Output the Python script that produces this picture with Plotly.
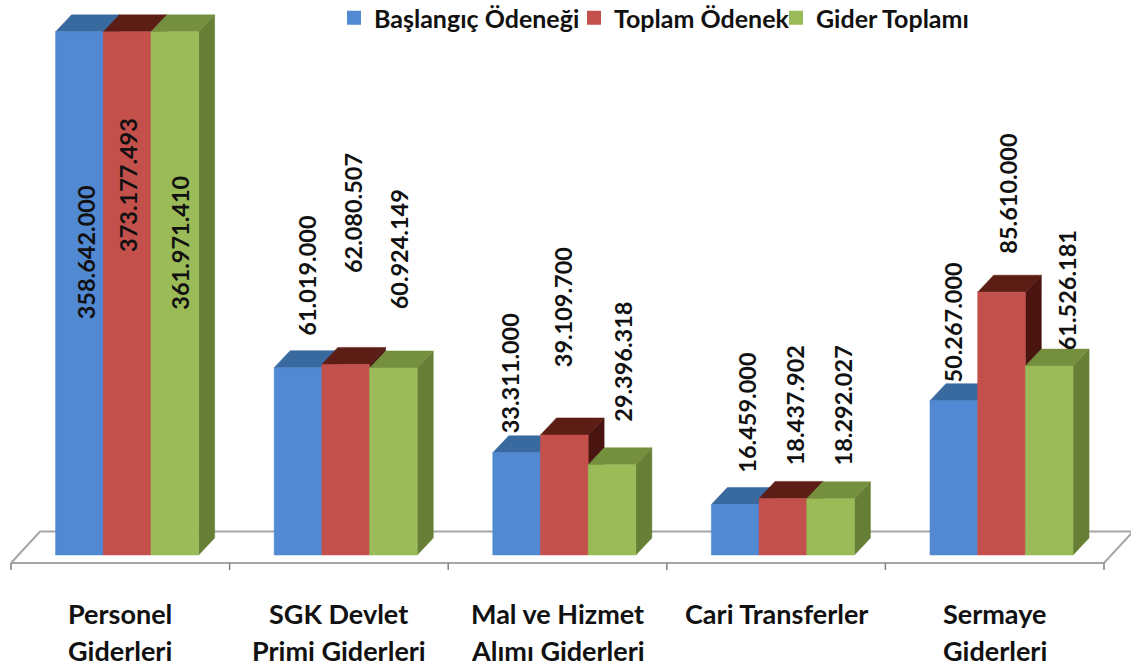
import plotly.graph_objects as go

categories_line1 = ["Personel", "SGK Devlet", "Mal ve Hizmet", "Cari Transferler", "Sermaye"]
categories_line2 = ["Giderleri", "Primi Giderleri", "Alımı Giderleri", "", "Giderleri"]
series_names = ["Başlangıç Ödeneği", "Toplam Ödenek", "Gider Toplamı"]
baslangic = [358642000, 61019000, 33311000, 16459000, 50267000]
toplam = [373177493, 62080507, 39109700, 18437902, 85610000]
gider = [361971410, 60924149, 29396318, 18292027, 61526181]
series = [baslangic, toplam, gider]

FRONT = ["#5289D3", "#C4504C", "#9BBB59"]
TOP = ["#38699F", "#5C1D14", "#748F3E"]
SIDE = ["#2F5A8A", "#4A1510", "#667E35"]

# scales (the page margin is removed by a small post script, so the figure fills the window)
FIG_W, FIG_H = 1131, 666
PX_PER_UNIT = 218.6            # px per category
PX_PER_VAL = 3.07e-6           # px per value unit
AXIS_CAP = 170.4e6             # value axis maximum: taller bars are cut here
BAR_W = 47.7 / PX_PER_UNIT
DX = 16 / PX_PER_UNIT
DY = 17 / PX_PER_VAL
GROUP_SHIFT = 6.8 / PX_PER_UNIT
FLOOR_FRONT = -8 / PX_PER_VAL
FLOOR_BACK = 23.5 / PX_PER_VAL
TICK_BOTTOM = -15 / PX_PER_VAL
FLOOR_DX = 29 / PX_PER_UNIT
ORIGIN_X, ORIGIN_Y = 120.3, 555

# label nudges (px) relative to the top centre of the front face
label_dx = [[6, 1, 5], [9, 8, 6], [-7, -1, 11], [12, 12, 12], [-1, 7, 18]]
label_dy = [[-220, -153, -211], [92, 151, 119], [80, 128, 103], [92, 93, 93], [79, 99, 76]]
legend_left = [334, 574, 776]

fig = go.Figure()


def poly(xs, ys, color):
    fig.add_trace(go.Scatter(x=xs + xs[:1], y=ys + ys[:1], mode="lines", fill="toself",
                             fillcolor=color, line=dict(width=0.5, color=color),
                             hoverinfo="skip", showlegend=False))


# floor
n = len(categories_line1)
x0, x1 = -0.5, n - 0.5
GRAY = "#A6A6A6"
fig.add_trace(go.Scatter(
    x=[x0, x0 + FLOOR_DX, x1 + FLOOR_DX, x1, x0],
    y=[FLOOR_FRONT, FLOOR_BACK, FLOOR_BACK, FLOOR_FRONT, FLOOR_FRONT],
    mode="lines", line=dict(color=GRAY, width=2), hoverinfo="skip", showlegend=False))
for t in range(n + 1):
    fig.add_trace(go.Scatter(x=[t - 0.5, t - 0.5], y=[FLOOR_FRONT, TICK_BOTTOM], mode="lines",
                             line=dict(color="#808080", width=1.5), hoverinfo="skip", showlegend=False))

# bars, painted left to right so nearer faces cover farther ones
for i in range(n):
    for k in range(3):
        v = min(series[k][i], AXIS_CAP)
        l = i + GROUP_SHIFT + (k - 1.5) * BAR_W
        r = l + BAR_W
        poly([r, r + DX, r + DX, r], [0, DY, v + DY, v], SIDE[k])
        poly([l, r, r + DX, l + DX], [v, v, v + DY, v + DY], TOP[k])
        poly([l, r, r, l], [0, 0, v, v], FRONT[k])

# legend: one small legend per entry so that each can sit at its own place
FONT = "Lato"
legend_font = dict(family=FONT, size=25, color="#111111", weight="bold")
legend_layout = {}
for k in range(3):
    ref = "legend" if k == 0 else f"legend{k + 1}"
    fig.add_trace(go.Scatter(x=[None], y=[None], mode="markers", name=series_names[k], legend=ref,
                             showlegend=True,
                             marker=dict(symbol="square", size=14, color=FRONT[k])))
    legend_layout[ref] = dict(x=legend_left[k] / FIG_W, y=1 + 5 / FIG_H,
                              xanchor="left", yanchor="top", bgcolor="rgba(0,0,0,0)",
                              font=legend_font, itemwidth=30)

annotations = []
for i in range(n):
    for k in range(3):
        v = series[k][i]
        txt = f"{v:,}".replace(",", ".")
        annotations.append(dict(
            x=i + GROUP_SHIFT + (k - 1) * BAR_W, y=min(v, AXIS_CAP), xref="x", yref="y",
            text=txt, textangle=-90, showarrow=False,
            xanchor="center", yanchor="middle",
            xshift=label_dx[i][k], yshift=label_dy[i][k],
            font=dict(family=FONT, size=23.5, color="#111111", weight="bold")))
    for line, py in ((categories_line1[i], 613), (categories_line2[i], 650)):
        if line:
            annotations.append(dict(
                x=i, y=1 - py / FIG_H, xref="x", yref="paper", text=line, showarrow=False,
                xanchor="center", yanchor="middle",
                font=dict(family=FONT, size=27, color="#111111", weight="bold")))

fig.update_layout(
    width=FIG_W, height=FIG_H, autosize=False,
    margin=dict(l=0, r=0, t=0, b=0, autoexpand=False),
    paper_bgcolor="white", plot_bgcolor="white",
    xaxis=dict(visible=False, fixedrange=True,
               range=[-ORIGIN_X / PX_PER_UNIT, (FIG_W - ORIGIN_X) / PX_PER_UNIT]),
    yaxis=dict(visible=False, fixedrange=True,
               range=[(ORIGIN_Y - FIG_H) / PX_PER_VAL, ORIGIN_Y / PX_PER_VAL]),
    annotations=annotations,
    **legend_layout,
)
fig.write_html("out.html", config={"displayModeBar": False},
               post_script="document.body.style.margin='0';document.body.style.overflow='hidden';")
